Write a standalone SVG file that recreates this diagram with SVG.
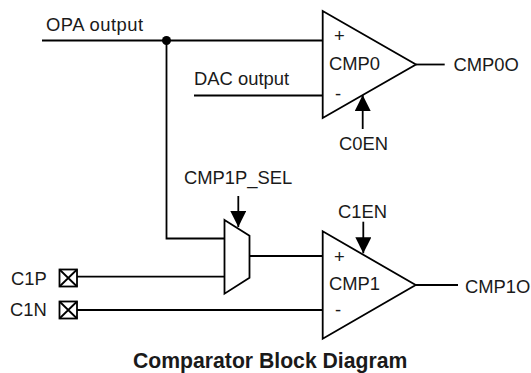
<svg xmlns="http://www.w3.org/2000/svg" width="531" height="373" viewBox="0 0 531 373">
<style>
text{font-family:"Liberation Sans",Arial,sans-serif;font-size:18.4px;fill:#1a1a1a}
.s{fill:none;stroke:#000;stroke-width:1.8}
.b{fill:#fff;stroke:#000;stroke-width:1.8;stroke-linejoin:miter}
.t{font-weight:bold;font-size:21.2px}
</style>
<defs>
<marker id="ah" markerUnits="userSpaceOnUse" markerWidth="16" markerHeight="16" refX="16" refY="8" orient="auto"><path d="M0 0L16 8L0 16z" fill="#000"/></marker>
</defs>
<rect width="531" height="373" fill="#fff"/>
<g id="connectors">
<path class="s" d="M42 40.5H322.7"/>
<path class="s" d="M166.5 40.5V238.5H224.5"/>
<path class="s" d="M194 95.5H322.7"/>
<path class="s" d="M416 64.5H444.7"/>
<path class="s" d="M77 276.7H224.5"/>
<path class="s" d="M77 310H322.7"/>
<path class="s" d="M249.5 256H322.7"/>
<path class="s" d="M415.7 285H458"/>
<path class="s" d="M362.7 129V95" marker-end="url(#ah)"/>
<path class="s" d="M238.3 196V227" marker-end="url(#ah)"/>
<path class="s" d="M363.3 221.7V253.3" marker-end="url(#ah)"/>
<circle cx="166.5" cy="40.5" r="4.5" fill="#000"/>
</g>
<g id="cmp0"><path class="b" d="M322.7 11V118L416 64.5z"/><text x="329" y="69.5">CMP0</text><text x="334" y="42">+</text><text x="335" y="100">-</text></g>
<g id="cmp1"><path class="b" d="M322.7 231.3V338.7L415.7 285z"/><text x="329" y="290">CMP1</text><text x="334" y="263">+</text><text x="335" y="316">-</text></g>
<g id="mux"><path class="b" d="M224.5 220L249.5 235.7V277.7L224.5 293.7z"/></g>
<g id="c1p"><rect class="b" x="59.5" y="269.5" width="17.5" height="17"/><path class="s" d="M59.5 269.5L77 286.5M77 269.5L59.5 286.5"/><text x="11" y="285">C1P</text></g>
<g id="c1n"><rect class="b" x="59.5" y="301.5" width="17.5" height="17"/><path class="s" d="M59.5 301.5L77 318.5M77 301.5L59.5 318.5"/><text x="10" y="316">C1N</text></g>
<g id="labels">
<text x="46" y="31" textLength="97">OPA output</text>
<text x="194" y="85">DAC output</text>
<text x="339" y="150">C0EN</text>
<text x="453.5" y="71">CMP0O</text>
<text x="184" y="184">CMP1P_SEL</text>
<text x="338" y="218">C1EN</text>
<text x="465" y="292.5">CMP1O</text>
<text class="t" x="133" y="368">Comparator Block Diagram</text>
</g>
</svg>
